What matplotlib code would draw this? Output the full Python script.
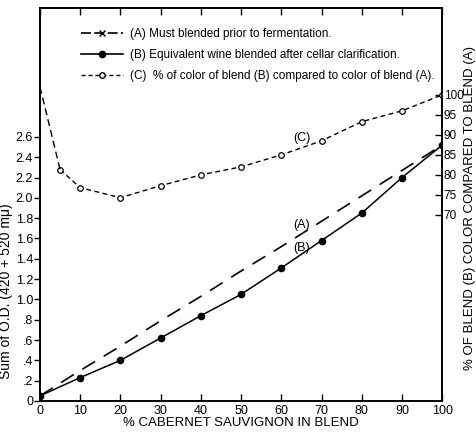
import numpy as np
import matplotlib
matplotlib.use("Agg")
import matplotlib.pyplot as plt
from matplotlib.lines import Line2D

plt.rcParams['font.family'] = ['Liberation Sans', 'DejaVu Sans']

# % cabernet sauvignon in blend
pct = [0, 10, 20, 30, 40, 50, 60, 70, 80, 90, 100]
# (A) must blended prior to fermentation
od_a = [0.05, 0.30, 0.54, 0.79, 1.03, 1.28, 1.52, 1.77, 2.02, 2.27, 2.52]
# (B) wine blended after cellar clarification
od_b = [0.05, 0.23, 0.40, 0.62, 0.84, 1.05, 1.31, 1.58, 1.85, 2.20, 2.52]
# (C) % of colour of blend B compared to blend A
pct_c_x = [0, 5, 10, 20, 30, 40, 50, 60, 70, 80, 90, 100]
pct_c = [102.0, 81.3, 76.8, 74.3, 77.3, 80.0, 82.0, 85.0, 88.5, 93.3, 96.0, 100.0]

left_ticks = [0, .2, .4, .6, .8, 1.0, 1.2, 1.4, 1.6, 1.8, 2.0, 2.2, 2.4, 2.6]
left_labels = ['0', '.2', '.4', '.6', '.8', '1.0', '1.2', '1.4', '1.6', '1.8',
               '2.0', '2.2', '2.4', '2.6']
right_ticks = [70, 75, 80, 85, 90, 95, 100]

fig = plt.figure(figsize=(4.76, 4.33), dpi=100)
ax = fig.add_axes([0.084, 0.074, 0.845, 0.908])
ax2 = ax.twinx()

ax.plot(pct, od_a, color='black', lw=1.2, dashes=(9, 6))
ax.plot(pct, od_b, color='black', lw=1.1, marker='o', ms=4.5)
ax2.plot(pct_c_x[1:], pct_c[1:], color='black', lw=1.0, dashes=(3.5, 2.5),
         marker='o', ms=4, mfc='white', mew=0.9)
ax2.plot(pct_c_x[:2], pct_c[:2], color='black', lw=1.0, dashes=(5, 3))

ax.set_xlim(0, 100)
ax.set_ylim(0, 3.872)
ax2.set_ylim(23.5, 121.75)

ax.set_xticks(range(0, 101, 10))
ax.set_xticklabels([str(v) for v in range(0, 101, 10)], fontsize=9)
ax.tick_params(axis='x', direction='in', length=5, top=True, width=1, pad=3)
ax.set_yticks(left_ticks)
ax.set_yticklabels(left_labels, fontsize=9)
ax.tick_params(axis='y', direction='out', length=4, width=1, pad=1)

ax2.set_yticks(right_ticks)
ax2.set_yticklabels([str(v) for v in right_ticks], fontsize=8.5)
ax2.tick_params(axis='y', direction='in', length=5, width=1, pad=1)

for a in (ax, ax2):
    for s in a.spines.values():
        s.set_linewidth(1.2)

ax.set_xlabel('% CABERNET SAUVIGNON IN BLEND', fontsize=9.5, labelpad=0)
ax.set_ylabel('Sum of O.D. (420 + 520 m\u03bc)', fontsize=10)
ax.yaxis.set_label_coords(-0.068, 0.28)
ax2.set_ylabel('% OF BLEND (B) COLOR COMPARED TO BLEND (A)', fontsize=9.5, rotation=90)
ax2.yaxis.set_label_coords(1.053, 0.49)

ax.text(65, 2.59, '(C)', fontsize=9, ha='center', va='center')
ax.text(65, 1.73, '(A)', fontsize=9, ha='center', va='center')
ax.text(65, 1.51, '(B)', fontsize=9, ha='center', va='center')

handles = [
    Line2D([], [], color='black', lw=1.2, dashes=(6, 2), marker='x', ms=4),
    Line2D([], [], color='black', lw=1.2, marker='o', ms=4.5),
    Line2D([], [], color='black', lw=1.0, dashes=(3, 2), marker='o', ms=4, mfc='white'),
]
labels = ['(A) Must blended prior to fermentation.',
          '(B) Equivalent wine blended after cellar clarification.',
          '(C)  % of color of blend (B) compared to color of blend (A).']
ax.legend(handles, labels, loc='upper left', bbox_to_anchor=(0.09, 0.96),
          frameon=False, fontsize=8.5, handlelength=3.6, labelspacing=0.75,
          handletextpad=0.6, borderaxespad=0)

fig.savefig('out.png', dpi=100)
